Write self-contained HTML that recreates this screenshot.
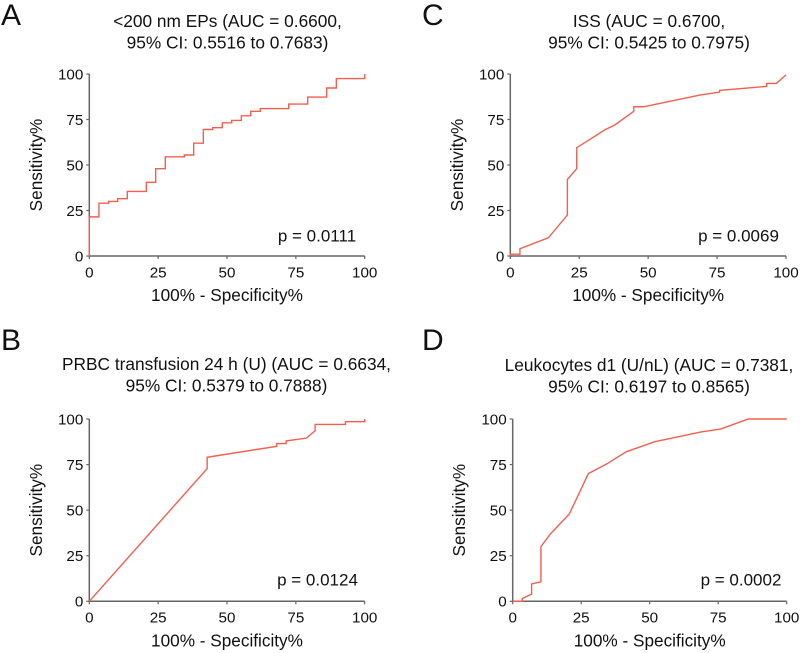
<!DOCTYPE html>
<html lang="en">
<head>
<meta charset="utf-8">
<title>ROC curves</title>
<style>
html,body{margin:0;padding:0;background:#fff;}
svg{display:block;filter:blur(0.35px);}
text{font-family:"Liberation Sans",Arial,sans-serif;fill:#111;}
</style>
</head>
<body>
<svg id="figure" width="800" height="653" viewBox="0 0 800 653" xmlns="http://www.w3.org/2000/svg"></svg>
<script>
const xTickLabels = [0, 25, 50, 75, 100];
const yTickLabels = [0, 25, 50, 75, 100];

const seriesAX = [0,0,3.5,3.5,7,7,10.3,10.3,13.8,13.8,20.7,20.7,24.1,24.1,27.6,27.6,34.5,34.5,37.9,37.9,41.4,41.4,44.8,44.8,48.3,48.3,51.7,51.7,55.2,55.2,58.6,58.6,62.1,62.1,72.4,72.4,79.3,79.3,86.2,86.2,89.7,89.7,100,100];
const seriesAY = [0,21.5,21.5,29,29,30,30,31.5,31.5,35.5,35.5,40.5,40.5,48,48,54.5,54.5,55.5,55.5,62,62,69.5,69.5,70.5,70.5,73.2,73.2,74.5,74.5,77,77,79.5,79.5,81,81,83.5,83.5,87.3,87.3,92.3,92.3,97.5,97.5,100];

const seriesBX = [0,42.8,42.8,68,68,71.5,71.5,78.8,82,82,93,93,100,100];
const seriesBY = [0,72.8,79,85,86.5,86.5,88,89.5,93.5,97,97,98.5,98.5,100];

const seriesCX = [0,0,3.5,3.5,13.8,20.7,20.7,24.1,24.1,34.5,37.9,44.8,44.8,48.3,69,75.9,75.9,93,93,96.5,100];
const seriesCY = [0,1,1,4,10,22.5,42,48,59.5,69.5,72,79.5,82,82,88.5,90,91,93.2,94.8,94.8,99.5];

const seriesDX = [0,3.5,3.5,6.9,6.9,10.3,10.3,13.8,20.7,27.6,34.5,41.4,51.7,69,75.9,86,100];
const seriesDY = [0,0,1.5,4,9.5,10.7,30,37,48,70,75.5,82,87.5,93,94.5,100,100];

const NS = 'http://www.w3.org/2000/svg';
const svg = document.getElementById('figure');

function make(parent, tag, attrs, text) {
  const el = document.createElementNS(NS, tag);
  for (const k in attrs) el.setAttribute(k, attrs[k]);
  if (text !== undefined) el.textContent = text;
  parent.appendChild(el);
  return el;
}

function drawPanel(cfg) {
  const g = make(svg, 'g', {});
  
  

  const xScale = v => cfg.x0 + (cfg.x1 - cfg.x0) * v / 100;
  const yScale = v => cfg.y0 + (cfg.y1 - cfg.y0) * v / 100;
  const cx = (cfg.x0 + cfg.x1) / 2;

  const letter = make(g, 'text', {x: cfg.letterX, y: cfg.letterY, 'font-size': 30}, cfg.letter);
  
  

  const t1 = make(g, 'text', {x: cfg.titleX, y: cfg.titleY, 'font-size': 17.3, 'text-anchor': 'middle'}, cfg.title1);
  
  
  const t2 = make(g, 'text', {x: cfg.titleX, y: cfg.titleY + 21.5, 'font-size': 17.3, 'text-anchor': 'middle'}, cfg.title2);
  
  

  const xAxis = make(g, 'line', {x1: cfg.x0, x2: cfg.x1, y1: cfg.y0, y2: cfg.y0, stroke: '#666', 'stroke-width': 1.5});
  
  
  const yAxis = make(g, 'line', {x1: cfg.x0, x2: cfg.x0, y1: cfg.y0, y2: cfg.y1, stroke: '#666', 'stroke-width': 1.5});
  
  

  xTickLabels.forEach(v => {
    const tick = make(g, 'line', {x1: xScale(v), x2: xScale(v), y1: cfg.y0, y2: cfg.y0 + 3, stroke: '#666', 'stroke-width': 1.2});
    
    
    const lab = make(g, 'text', {x: xScale(v), y: cfg.y0 + 21.3, 'font-size': 15.2, 'text-anchor': 'middle'}, String(v));
    
    
  });

  yTickLabels.forEach(v => {
    const tick = make(g, 'line', {x1: cfg.x0 - 3, x2: cfg.x0, y1: yScale(v), y2: yScale(v), stroke: '#666', 'stroke-width': 1.2});
    
    
    const lab = make(g, 'text', {x: cfg.x0 - 6, y: yScale(v) + 5.4, 'font-size': 15.2, 'text-anchor': 'end'}, String(v));
    
    
  });

  const xt = make(g, 'text', {x: cx, y: cfg.y0 + 45, 'font-size': 17.2, 'text-anchor': 'middle'}, '100% - Specificity%');
  
  

  const ymid = (cfg.y0 + cfg.y1) / 2;
  const yt = make(g, 'text', {x: 0, y: 0, 'font-size': 17.2, 'text-anchor': 'middle',
    transform: 'translate(' + cfg.yTitleX + ',' + ymid + ') rotate(-90)'}, 'Sensitivity%');
  
  

  const points = cfg.xs.map((v, i) => xScale(v).toFixed(2) + ',' + yScale(cfg.ys[i]).toFixed(2)).join(' ');
  const curve = make(g, 'polyline', {points: points, fill: 'none', stroke: '#f4604e', 'stroke-width': 1.4, 'stroke-linejoin': 'miter'});
  
  

  const p = make(g, 'text', {x: cfg.pX, y: cfg.pY, 'font-size': 17, 'text-anchor': 'middle'}, cfg.pText);
  
  
}

drawPanel({key:'a', letter:'A', letterX:1, letterY:25, x0:89.3, x1:364.7, y0:256, y1:74,
  titleX:227.5, titleY:27, title1:'<200 nm EPs (AUC = 0.6600,', title2:'95% CI: 0.5516 to 0.7683)',
  yTitleX:42, pX:317, pY:241.5, pText:'p = 0.0111', xs:seriesAX, ys:seriesAY});

drawPanel({key:'b', letter:'B', letterX:1, letterY:350, x0:89.3, x1:364.7, y0:601.3, y1:419,
  titleX:226.5, titleY:370, title1:'PRBC transfusion 24 h (U) (AUC = 0.6634,', title2:'95% CI: 0.5379 to 0.7888)',
  yTitleX:42, pX:317.5, pY:585.3, pText:'p = 0.0124', xs:seriesBX, ys:seriesBY});

drawPanel({key:'c', letter:'C', letterX:422, letterY:25, x0:510.3, x1:786, y0:256, y1:74,
  titleX:649, titleY:27, title1:'ISS (AUC = 0.6700,', title2:'95% CI: 0.5425 to 0.7975)',
  yTitleX:463, pX:738.5, pY:241.5, pText:'p = 0.0069', xs:seriesCX, ys:seriesCY});

drawPanel({key:'d', letter:'D', letterX:422, letterY:350, x0:512.7, x1:786.7, y0:601.3, y1:419,
  titleX:649, titleY:371, title1:'Leukocytes d1 (U/nL) (AUC = 0.7381,', title2:'95% CI: 0.6197 to 0.8565)',
  yTitleX:465, pX:741, pY:585.6, pText:'p = 0.0002', xs:seriesDX, ys:seriesDY});
</script>
</body>
</html>
